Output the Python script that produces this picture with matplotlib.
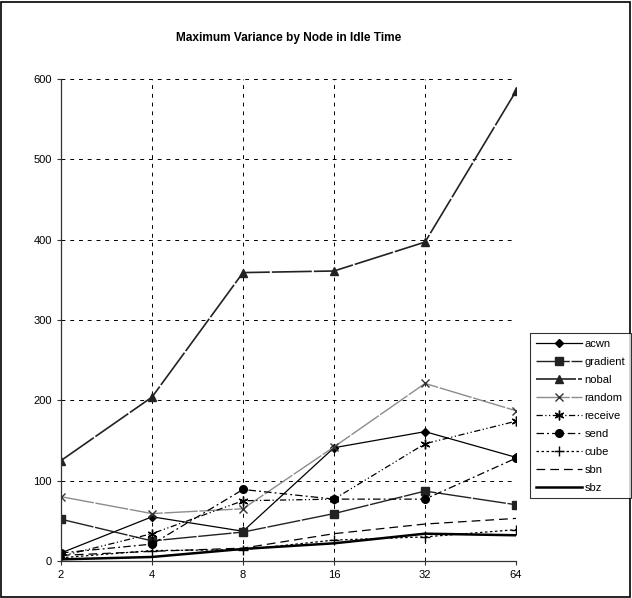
import matplotlib.pyplot as plt
from matplotlib.patches import Rectangle

# node counts (category axis) and max idle-time variance per strategy
nodes = ['2', '4', '8', '16', '32', '64']
acwn = [10, 55, 37, 141, 161, 129]
gradient = [52, 25, 36, 59, 87, 70]
nobal = [125, 204, 359, 361, 397, 585]
random_ = [80, 59, 65, 142, 221, 187]
receive = [6, 34, 75, 77, 146, 174]
send = [10, 21, 89, 77, 77, 128]
cube = [4, 13, 14, 26, 30, 39]
sbn = [7, 12, 16, 34, 46, 53]
sbz = [2, 5, 15, 22, 34, 32]

plt.rcParams['font.family'] = ['Liberation Sans', 'DejaVu Sans']

fig = plt.figure(figsize=(6.32, 5.98), dpi=100)
ax = fig.add_axes([0.0965, 0.0619, 0.72, 0.806])
x = range(len(nodes))

ax.plot(x, acwn, color='black', lw=0.9, marker='D', ms=4.5, label='acwn')
ax.plot(x, gradient, color='#222222', lw=1.0, ls=(0, (24, 1.2)), marker='s', ms=5.5, label='gradient')
ax.plot(x, nobal, color='#222222', lw=1.2, ls=(0, (24, 1.2)), marker='^', ms=6, label='nobal')
ax.plot(x, random_, color='#8c8c8c', lw=1.0, ls=(0, (24, 1.2)), marker='x', ms=6, mec='#333333', label='random')
ax.plot(x, receive, color='black', lw=0.9, ls=(0, (5, 2, 1, 2, 1, 2)), marker=(6, 2, 0), ms=7, label='receive')
ax.plot(x, send, color='black', lw=0.9, ls=(0, (6, 2.5, 1.5, 2.5)), marker='o', ms=5.5, label='send')
ax.plot(x, cube, color='black', lw=0.9, ls=(0, (2, 2)), marker='+', ms=7, label='cube')
ax.plot(x, sbn, color='black', lw=0.9, ls=(0, (7, 4)), label='sbn')
ax.plot(x, sbz, color='black', lw=1.8, label='sbz')

ax.set_xlim(0, len(nodes) - 1)
ax.set_ylim(0, 600)
ax.set_xticks(list(x))
ax.set_xticklabels(nodes)
ax.set_yticks(range(0, 601, 100))
ax.tick_params(labelsize=8, length=3, width=0.8, color='#333333')
ax.grid(True, color='black', ls=(0, (4, 5)), lw=0.7)
ax.spines['top'].set_visible(False)
ax.spines['right'].set_visible(False)
for s in ('left', 'bottom'):
    ax.spines[s].set_color('#333333')
    ax.spines[s].set_linewidth(0.9)

ax.set_title('Maximum Variance by Node in Idle Time', fontsize=8.6, fontweight='bold', pad=27)

leg = fig.legend(loc='upper left', bbox_to_anchor=(0.8386, 0.443), fontsize=8,
                 frameon=True, fancybox=False, edgecolor='black', handlelength=4.2,
                 handletextpad=0.2, labelspacing=0.72, borderpad=0.5, borderaxespad=0)
leg.get_frame().set_linewidth(0.8)

fig.patches.append(Rectangle((0.002, 0.002), 0.995, 0.995, transform=fig.transFigure,
                             fill=False, edgecolor='black', lw=1.2))

fig.savefig('out.png', dpi=100)
